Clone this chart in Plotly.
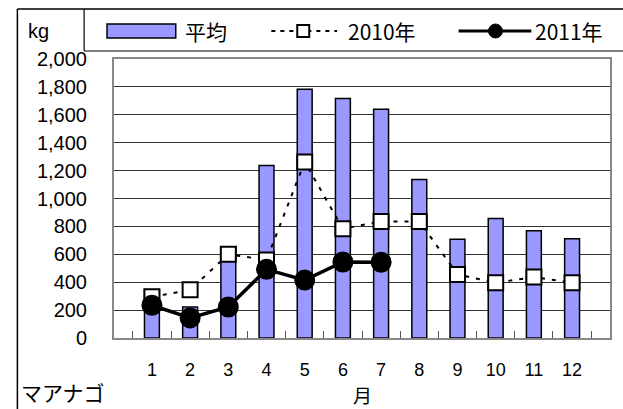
import plotly.graph_objects as go

# マアナゴ 月別漁獲量 (kg)
months = ["1", "2", "3", "4", "5", "6", "7", "8", "9", "10", "11", "12"]
avg_kg = [345, 222, 655, 1236, 1784, 1717, 1640, 1136, 708, 857, 768, 711]
y2010_kg = [295, 345, 600, 560, 1262, 783, 836, 836, 456, 396, 437, 396]
y2011_kg = [235, 144, 222, 492, 415, 545, 543, None, None, None, None, None]
y_ticks = [0, 200, 400, 600, 800, 1000, 1200, 1400, 1600, 1800, 2000]

W, H = 623, 409
PL, PR, PT, PB = 114, 612, 59, 338  # plot area in pixels

BAR_COLOR = "#9999FF"
FONT_JP = "Noto Sans CJK JP"
FONT_NUM = "Liberation Sans, Arial, sans-serif"


def px(x):
    return (x - PL) / (PR - PL)


def py(y):
    return (PB - y) / (PB - PT)


fig = go.Figure()

fig.add_trace(go.Bar(
    x=months, y=avg_kg, name="平均", width=0.39,
    marker=dict(color=BAR_COLOR, line=dict(color="black", width=1.5)),
))
fig.add_trace(go.Scatter(
    x=months, y=y2010_kg, name="2010年", mode="lines+markers",
    line=dict(color="black", width=2, dash="4px,7px"),
    marker=dict(symbol="square", size=15, color="white",
                line=dict(color="black", width=2)),
))
fig.add_trace(go.Scatter(
    x=months, y=y2011_kg, name="2011年", mode="lines+markers",
    line=dict(color="black", width=3.5),
    marker=dict(symbol="circle", size=21, color="black"),
))

shapes = [
    # outer frame (left + top)
    dict(type="line", x0=px(17), x1=px(17), y0=py(9), y1=py(H + 5),
         line=dict(color="black", width=1.5)),
    dict(type="line", x0=px(17), x1=px(W + 5), y0=py(9), y1=py(9),
         line=dict(color="black", width=1.5)),
    # legend box
    dict(type="line", x0=px(84), x1=px(84), y0=py(9), y1=py(51),
         line=dict(color="black", width=1.2)),
    dict(type="line", x0=px(84), x1=px(W + 5), y0=py(51), y1=py(51),
         line=dict(color="black", width=1.2)),
    # legend samples
    dict(type="rect", x0=px(107), x1=px(176), y0=py(24), y1=py(38),
         fillcolor=BAR_COLOR, line=dict(color="black", width=1.5)),
    dict(type="line", x0=px(272), x1=px(338), y0=py(31), y1=py(31),
         line=dict(color="black", width=2, dash="4px,5px")),
    dict(type="rect", x0=px(298), x1=px(310), y0=py(25), y1=py(37),
         fillcolor="white", line=dict(color="black", width=2)),
    dict(type="line", x0=px(460), x1=px(533), y0=py(31), y1=py(31),
         line=dict(color="black", width=3)),
    dict(type="circle", x0=px(490), x1=px(504), y0=py(24), y1=py(38),
         fillcolor="black", line=dict(color="black", width=1)),
]

annotations = [
    dict(text="kg", x=px(38), y=py(31), font=dict(family=FONT_NUM, size=20)),
    dict(text="平均", x=px(206), y=py(31), font=dict(family=FONT_JP, size=21)),
    dict(text="2010年", x=px(383), y=py(31), font=dict(family=FONT_JP, size=21)),
    dict(text="2011年", x=px(571), y=py(31), font=dict(family=FONT_JP, size=21)),
    dict(text="マアナゴ", x=px(63), y=py(392), font=dict(family=FONT_JP, size=21)),
    dict(text="月", x=px(364), y=py(394), font=dict(family=FONT_JP, size=19)),
]
for a in annotations:
    a.update(xref="paper", yref="paper", showarrow=False,
             xanchor="center", yanchor="middle")
for s in shapes:
    s.update(xref="paper", yref="paper", layer="above")

fig.update_layout(
    width=W, height=H,
    margin=dict(l=PL, r=W - PR, t=PT, b=H - PB, pad=0),
    paper_bgcolor="white", plot_bgcolor="white",
    showlegend=False,
    shapes=shapes, annotations=annotations,
    font=dict(family=FONT_NUM, size=19, color="black"),
)
fig.update_xaxes(
    type="category", tickson="boundaries", ticks="inside", ticklen=7,
    tickcolor="#555", tickwidth=1, showgrid=False,
    showline=True, linecolor="#888", linewidth=2, mirror=True,
    ticklabelstandoff=14, tickfont=dict(family=FONT_NUM, size=18),
)
fig.update_yaxes(
    range=[0, 2000], tickvals=y_ticks, tickformat=",d",
    showgrid=True, gridcolor="#333", gridwidth=1,
    showline=True, linecolor="#888", linewidth=2, mirror=True,
    ticks="", ticklabelstandoff=21, tickfont=dict(family=FONT_NUM, size=20),
    zeroline=False,
)

fig.write_html("out.html", config={"displayModeBar": False},
               post_script="document.body.style.margin='0';")
